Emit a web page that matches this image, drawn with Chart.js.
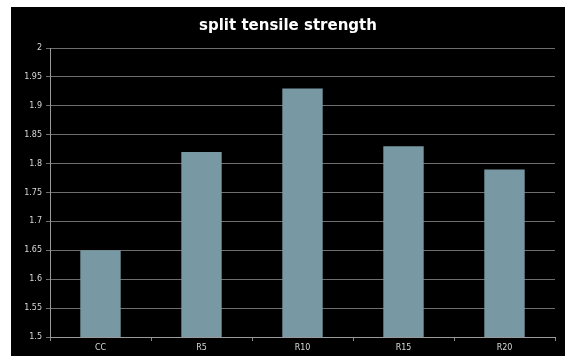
<!DOCTYPE html>
<html>
<head>
<meta charset="utf-8">
<script src="https://cdn.jsdelivr.net/npm/chart.js@4/dist/chart.umd.min.js"></script>
<style>
  html, body { margin: 0; padding: 0; background: #ffffff; }
  #wrap { width: 565px; height: 356px; position: relative; }
</style>
</head>
<body>
<div id="wrap"><canvas id="c" width="565" height="356"></canvas></div>
<script>
// Mixes and their measured split tensile strength
const categories = ['CC', 'R5', 'R10', 'R15', 'R20'];
const strengthValues = [1.65, 1.82, 1.93, 1.83, 1.79];
const yMin = 1.5;
const yMax = 2;
const yStep = 0.05;
const chartTitle = 'split tensile strength';

const PANEL_LEFT = 11;
const PANEL_TOP = 7;

// Black panel behind the chart, with the title centred across it
const panel = {
  id: 'panel',
  beforeDraw(chart) {
    const ctx = chart.ctx;
    ctx.save();
    ctx.fillStyle = '#000000';
    ctx.fillRect(PANEL_LEFT, PANEL_TOP, chart.width - PANEL_LEFT, chart.height - PANEL_TOP);
    ctx.restore();
  },
  afterDraw(chart) {
    const ctx = chart.ctx;
    ctx.save();
    ctx.fillStyle = '#ffffff';
    ctx.font = 'bold 15px "DejaVu Sans", sans-serif';
    ctx.textAlign = 'center';
    ctx.textBaseline = 'middle';
    ctx.fillText(chartTitle, (PANEL_LEFT + chart.width) / 2, 26);
    ctx.restore();
  }
};

const tickFont = { family: '"DejaVu Sans", sans-serif', size: 8 };

new Chart(document.getElementById('c'), {
  type: 'bar',
  data: {
    labels: categories,
    datasets: [{
      data: strengthValues,
      backgroundColor: '#7899a4',
      borderWidth: 0,
      barPercentage: 0.4,
      categoryPercentage: 1.0
    }]
  },
  options: {
    responsive: false,
    animation: false,
    layout: { padding: { left: 0, right: 10, top: 48, bottom: 0 } },
    plugins: {
      legend: { display: false },
      tooltip: { enabled: false },
      title: { display: false }
    },
    scales: {
      x: {
        grid: { drawOnChartArea: false, drawTicks: true, tickLength: 4, color: '#8a8a8a' },
        border: { color: '#9a9a9a', width: 1 },
        ticks: { color: '#d8d8d8', font: tickFont, padding: 2 },
        afterFit(scale) { scale.height = 19; }
      },
      y: {
        min: yMin,
        max: yMax,
        grid: { color: '#6e6e6e', tickLength: 4, lineWidth: 1 },
        border: { color: '#9a9a9a', width: 1 },
        ticks: {
          stepSize: yStep,
          color: '#d8d8d8',
          font: tickFont,
          padding: 4,
          callback: (v) => String(Number(v.toFixed(2)))
        },
        afterFit(scale) { scale.width = 50; }
      }
    }
  },
  plugins: [panel]
});
</script>
</body>
</html>
